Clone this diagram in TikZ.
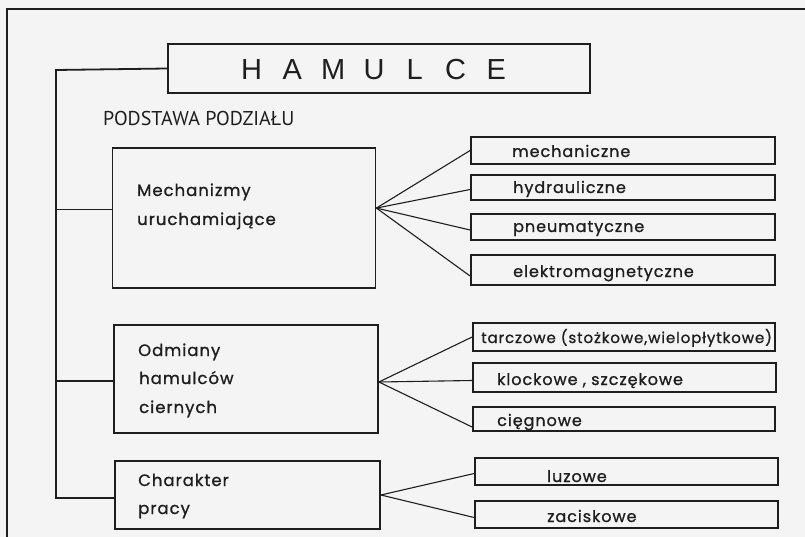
\documentclass[tikz,border=0pt]{standalone}
\usepackage{fontspec}
\usetikzlibrary{calc}
\newfontfamily\boxfont{Poppins}[LetterSpace=6,FakeBold=1]
\newfontfamily\capfont{PT Sans}
\newfontfamily\titlefont{Liberation Sans}
\definecolor{paper}{HTML}{F4F4F4}
\definecolor{ink}{HTML}{1E1E1E}
\tikzset{
  bx/.style={draw=ink, line width=1.8pt, rectangle, inner sep=0pt},
  ln/.style={draw=ink, line width=1.8pt},
  fan/.style={draw=ink, line width=1.1pt},
  txt/.style={anchor=base west, inner sep=0pt, text=ink, font=\boxfont\fontsize{16}{18}\selectfont},
  ltxt/.style={anchor=base west, inner sep=0pt, text=ink, font=\boxfont\fontsize{16.5}{18}\selectfont},
}
\begin{document}
\begin{tikzpicture}[x=1pt,y=-1pt]
\useasboundingbox (0,0) rectangle (805,537);
\fill[paper] (0,0) rectangle (805,537);
% frame
\draw[ln] (7,537) -- (7,9) -- (805,9);
% title
\node[bx, minimum width=422pt, minimum height=49pt] (ham) at (379,68.5) {};
\node[inner sep=0pt, text=ink, font=\titlefont\fontsize{29}{30}\selectfont] (hamt) at (374,70)
  {\makebox[40.8pt]{H}\makebox[40.8pt]{A}\makebox[40.8pt]{M}\makebox[40.8pt]{U}\makebox[40.8pt]{L}\makebox[40.8pt]{C}\makebox[40.8pt]{E}};
\node[anchor=base west, inner sep=0pt, text=ink, font=\capfont\fontsize{20}{22}\selectfont] (pp) at (103,126) {PODSTAWA PODZIAŁU};
% left boxes
\node[bx, minimum width=263pt, minimum height=140pt] (mz) at (244,218) {};
\node[bx, minimum width=264pt, minimum height=108pt] (od) at (246,379) {};
\node[bx, minimum width=265pt, minimum height=68pt] (cz) at (247.5,495) {};
\node[ltxt] (mz1) at (137,196) {Mechanizmy};
\node[ltxt] (mz2) at (137,225) {uruchamiające};
\node[ltxt] (od1) at (138,356) {Odmiany};
\node[ltxt] (od2) at (139,384) {hamulców};
\node[ltxt] (od3) at (139,413) {ciernych};
\node[ltxt] (cz1) at (138,486) {Charakter};
\node[ltxt] (cz2) at (138,514) {pracy};
% right boxes
\node[bx, minimum width=304pt, minimum height=27pt] (mech) at (623,150.5) {};
\node[bx, minimum width=304pt, minimum height=25pt] (hydr) at (623,187.5) {};
\node[bx, minimum width=304pt, minimum height=26pt] (pneu) at (623,227) {};
\node[bx, minimum width=304pt, minimum height=30pt] (elek) at (623,270) {};
\node[bx, minimum width=302pt, minimum height=28pt] (tarc) at (624,337) {};
\node[bx, minimum width=303pt, minimum height=29pt] (kloc) at (624.5,377.5) {};
\node[bx, minimum width=302pt, minimum height=24pt] (cieg) at (624,419) {};
\node[bx, minimum width=303pt, minimum height=27pt] (luz) at (626.5,471.5) {};
\node[bx, minimum width=303pt, minimum height=27pt] (zac) at (626.5,514.5) {};
\node[txt] (mecht) at (512,157) {mechaniczne};
\node[txt] (hydrt) at (513,193) {hydrauliczne};
\node[txt] (pneut) at (513,232) {pneumatyczne};
\node[txt] (elekt) at (513,277) {elektromagnetyczne};
\node[txt, font=\boxfont\fontsize{15}{18}\selectfont] (tarct) at (481,343) {tarczowe (stożkowe,wielopłytkowe)};
\node[txt] (kloct) at (497,385) {klockowe , szczękowe};
\node[txt] (ciegt) at (497,426) {cięgnowe};
\node[txt] (luzt) at (547,482) {luzowe};
\node[txt] (zact) at (547,522) {zaciskowe};
% tree on the left
\coordinate (trunk) at (56,70);
\coordinate (mzL) at ($(mz.north west)!0.44!(mz.south west)$);
\coordinate (odL) at ($(od.west)+(0,2)$);
\coordinate (czL) at ($(cz.west)+(0,3)$);
\draw[ln] (ham.west) -- (trunk) |- (czL);
\draw[ln] (mzL) -- (mzL -| trunk);
\draw[ln] (odL) -- (odL -| trunk);
% fans
\coordinate (mzR) at ($(mz.north east)!0.43!(mz.south east)$);
\coordinate (odR) at ($(od.east)+(0,3)$);
\coordinate (czR) at (cz.east);
\draw[fan] (mzR) -- (mech.west);
\draw[fan] (mzR) -- ($(hydr.west)+(0,2)$);
\draw[fan] (mzR) -- ($(pneu.west)+(0,3)$);
\draw[fan] (mzR) -- ($(elek.west)+(0,6)$);
\draw[fan] (odR) -- (tarc.west);
\draw[fan] (odR) -- ($(kloc.west)+(0,3)$);
\draw[fan] (odR) -- ($(cieg.west)+(0,8)$);
\draw[fan] (czR) -- ($(luz.west)+(0,2)$);
\draw[fan] (czR) -- ($(zac.west)+(0,3)$);
\end{tikzpicture}
\end{document}
